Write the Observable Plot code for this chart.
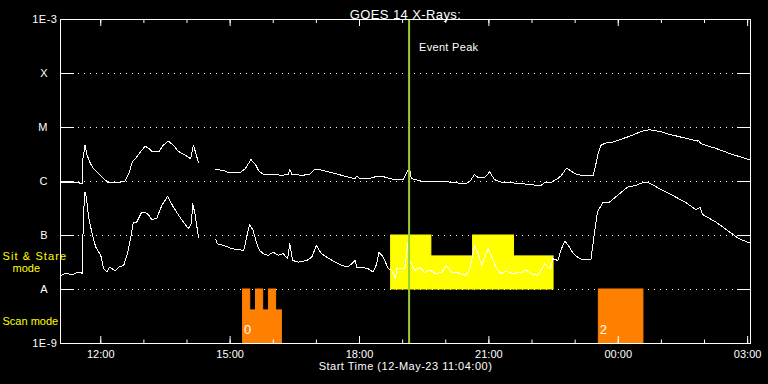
<!DOCTYPE html>
<html><head><meta charset="utf-8">
<script src="https://cdn.jsdelivr.net/npm/d3@7"></script>
<script src="https://cdn.jsdelivr.net/npm/@observablehq/plot@0.6"></script>
<style>html,body{margin:0;padding:0;background:#000;overflow:hidden;}</style>
</head><body><div id="chart"></div><script>
// ---------------- data ----------------
const title = "GOES 14 X-Rays:";
const xLabel = "Start Time (12-May-23 11:04:00)";
const startTime = "11:04", endTime = "03:04";
const hourTicks = ["12:00","13:00","14:00","15:00","16:00","17:00","18:00","19:00","20:00","21:00","22:00","23:00","00:00","01:00","02:00","03:00"];
const majorTicks = ["12:00","15:00","18:00","21:00","00:00","03:00"];
const yTickValues = [1e-9, 1e-8, 1e-7, 1e-6, 1e-5, 1e-4, 1e-3];
const yTickLabels = ["1E-9", "A", "B", "C", "M", "X", "1E-3"];
const peakTime = "19:09";
const peakLabel = "Event Peak";

// GOES long channel (1-8 A), W/m^2 (null = data gap)
const longTimes = ["11:04","11:29","11:34","11:35","11:38","11:41","11:46","11:50","11:57","12:04","12:11","12:23","12:34","12:39","12:44","12:50","12:57","13:02","13:07","13:11","13:21","13:27","13:34","13:41","13:48","13:58","14:05","14:09","14:11","14:16","14:27",
"14:39","14:51","14:55","15:14","15:21","15:29","15:35","15:40","15:46","15:58","16:12","16:21","16:23","16:26","16:40","16:51","16:58","17:05","17:17","17:30","17:44","17:54","17:56","18:01","18:12","18:26","18:35","18:49","19:01","19:07","19:10","19:12","19:22","19:31","19:45","19:59","20:13","20:27","20:33","20:40","20:45","20:54","21:01","21:08","21:20","21:34","21:47","22:06","22:13","22:18","22:25","22:36","22:41","22:48","22:55","23:02","23:09","23:25","23:28","23:32","23:36","23:43","23:53","00:06","00:20","00:32","00:43","00:57","01:11","01:30","01:50","01:52","01:54","01:57","02:16","02:35","02:53","03:04"];
const longFlux = [9.8e-7,9.5e-7,9.1e-7,2.5e-6,4.7e-6,3.05e-6,2.1e-6,1.73e-6,1.4e-6,1.13e-6,9.4e-7,9.4e-7,1.02e-6,1.4e-6,2.3e-6,2.84e-6,3.8e-6,4.5e-6,4.1e-6,3.6e-6,3.6e-6,4.7e-6,5.6e-6,4.7e-6,3.6e-6,3.05e-6,2.65e-6,4.7e-6,3.8e-6,2.23e-6,null,
1.66e-6,1.61e-6,1.5e-6,1.46e-6,1.73e-6,2.54e-6,2.1e-6,1.56e-6,1.36e-6,1.36e-6,1.3e-6,1.36e-6,1.66e-6,1.36e-6,1.3e-6,1.36e-6,1.68e-6,1.66e-6,1.5e-6,1.36e-6,1.21e-6,1.13e-6,1.25e-6,1.13e-6,1.13e-6,1.26e-6,1.21e-6,1.08e-6,1.08e-6,1.61e-6,1.61e-6,1.13e-6,1.05e-6,9.8e-7,9.8e-7,1.0e-6,9.5e-7,9.1e-7,9.8e-7,1.34e-6,1.18e-6,1.18e-6,1.5e-6,1.08e-6,9.5e-7,9.4e-7,9.1e-7,8.5e-7,8.5e-7,9.8e-7,9.4e-7,1.13e-6,1.3e-6,1.77e-6,1.54e-6,1.36e-6,1.3e-6,1.3e-6,1.85e-6,3.3e-6,4.7e-6,5.2e-6,5.4e-6,6.2e-6,7.2e-6,8.5e-6,9.1e-6,8.5e-6,7.5e-6,6.5e-6,5.6e-6,5.8e-6,5.2e-6,4.9e-6,4.1e-6,3.3e-6,2.77e-6,2.5e-6];

// GOES short channel (0.5-4 A), W/m^2 (null = data gap)
const shortTimes = ["11:04","11:12","11:20","11:26","11:32","11:34","11:36","11:38","11:40","11:43","11:48","11:53","12:00","12:04","12:09","12:12","12:16","12:20","12:25","12:32","12:37","12:41","12:45","12:50","12:57","13:02","13:07","13:11","13:18","13:25","13:33","13:41","13:51","14:02","14:06","14:08","14:11","14:16","14:27",
"14:40","14:42","14:55","15:02","15:19","15:23","15:27","15:32","15:37","15:41","15:46","15:53","16:00","16:07","16:14","16:20","16:23","16:27","16:35","16:42","16:49","16:54","17:00","17:07","17:14","17:26","17:35","17:44","17:54","17:56","18:03","18:12","18:19","18:24","18:27","18:33","18:40","18:45","18:50","18:52","18:59","19:03","19:07","19:10","19:17","19:24","19:31","19:38","19:45","19:54","20:01","20:08","20:17","20:27","20:33","20:40","20:45","20:50","20:59","21:04","21:11","21:17","21:24","21:31","21:45","21:52","21:59","22:08","22:18","22:25","22:29","22:36","22:41","22:46","22:52","22:57","23:04","23:10","23:22","23:27","23:31","23:39","23:48","00:02","00:13","00:25","00:36","00:43","00:57","01:16","01:35","01:48","01:54","01:57","02:16","02:35","02:48","03:04"];
const shortFlux = [1.82e-8,2.0e-8,1.85e-8,2.05e-8,2.1e-8,1.96e-8,2.54e-7,6.4e-7,5.15e-7,2.2e-7,1.08e-7,6.1e-8,4.3e-8,2.43e-8,2.1e-8,2.6e-8,2.43e-8,2.2e-8,2.6e-8,2.8e-8,4.6e-8,8.1e-8,1.7e-7,1.77e-7,2.7e-7,2.7e-7,2.36e-7,1.96e-7,2.1e-7,3.6e-7,5.3e-7,3.36e-7,2.1e-7,1.34e-7,1.66e-7,3.9e-7,2.54e-7,9.3e-8,null,
8.4e-8,7.05e-8,6.3e-8,5.7e-8,5.3e-8,9.3e-8,1.6e-7,1.24e-7,7.05e-8,5.3e-8,4.6e-8,4.3e-8,4.9e-8,4.3e-8,4.6e-8,3.7e-8,7.05e-8,3.45e-8,3.2e-8,3.35e-8,3.56e-8,4.1e-8,6.55e-8,4.6e-8,4.0e-8,3.2e-8,2.8e-8,2.6e-8,3.45e-8,2.6e-8,2.6e-8,2.43e-8,2.1e-8,3.0e-8,4.9e-8,4.0e-8,2.43e-8,2.25e-8,1.6e-8,2.43e-8,2.43e-8,2.43e-8,7.2e-8,3.45e-8,2.25e-8,2.6e-8,2.04e-8,2.3e-8,2.0e-8,2.04e-8,2.8e-8,2.1e-8,2.04e-8,1.82e-8,2.25e-8,6.55e-8,4.6e-8,2.8e-8,5.7e-8,4.0e-8,2.43e-8,1.96e-8,2.2e-8,2.0e-8,2.04e-8,2.3e-8,1.96e-8,1.82e-8,3.0e-8,2.43e-8,3.7e-8,3.45e-8,5.7e-8,7.9e-8,6.1e-8,4.7e-8,3.9e-8,3.6e-8,3.6e-8,1.16e-7,2.7e-7,4.16e-7,4.16e-7,5.95e-7,7.9e-7,8.5e-7,9.8e-7,9.4e-7,7.4e-7,5.5e-7,4.0e-7,3.0e-7,3.36e-7,2.46e-7,1.77e-7,1.16e-7,8.7e-8,7.2e-8];

// Sit & Stare mode blocks
const ssStart = ["18:44","19:40","20:38","21:35"];
const ssEnd   = ["19:40","20:38","21:35","22:30"];
const ssTop   = [1e-7, 4.1e-8, 1e-7, 4.1e-8];
const ssBase  = 1e-8;
// Scan mode blocks
const scanStart = ["15:18","15:28","15:36","15:46","15:54","16:04","23:33"];
const scanEnd   = ["15:28","15:36","15:46","15:54","16:04","16:12","00:35"];
const scanTop   = [1e-8, 4.1e-9, 1e-8, 4.1e-9, 1e-8, 4.1e-9, 1e-8];
const scanBase  = 1e-9;
const scanLabelTimes = ["15:18","23:33"];
const scanLabels = ["0","2"];

// ---------------- helpers ----------------
function t(s) {
  const [h, m] = s.split(":").map(Number);
  const day = h < 11 ? 13 : 12;
  return new Date(Date.UTC(2023, 4, day, h, m));
}
const longData = longTimes.map((s, i) => ({time: t(s), flux: longFlux[i] == null ? NaN : longFlux[i]}));
const shortData = shortTimes.map((s, i) => ({time: t(s), flux: shortFlux[i] == null ? NaN : shortFlux[i]}));
const ssData = ssStart.map((s, i) => ({x1: t(s), x2: t(ssEnd[i]), y1: ssBase, y2: ssTop[i]}));
const scanData = scanStart.map((s, i) => ({x1: t(s), x2: t(scanEnd[i]), y1: scanBase, y2: scanTop[i]}));
const scanLabelData = scanLabelTimes.map((s, i) => ({time: t(s), label: scanLabels[i]}));
const hourDates = hourTicks.map(t);
const majorDates = majorTicks.map(t);
const yLab = new Map(yTickValues.map((v, i) => [v, yTickLabels[i]]));
const yEnds = [yTickValues[0], yTickValues[yTickValues.length - 1]];
const yLetters = yTickValues.slice(1, -1);
const fmt = d3.utcFormat("%H:%M");
const blank = () => "";

const chart = Plot.plot({
  width: 768, height: 384,
  marginLeft: 60, marginRight: 18, marginTop: 19, marginBottom: 41,
  style: {background: "#000", color: "#fff", fontFamily: "'Liberation Sans', Arial, sans-serif", fontSize: "11px", overflow: "visible"},
  x: {type: "utc", domain: [t(startTime), t(endTime)], axis: null},
  y: {type: "log", domain: [1e-9, 1e-3], axis: null},
  marks: [
    Plot.gridY(yLetters, {stroke: "#fff", strokeOpacity: 1, strokeDasharray: "1,5"}),
    Plot.rect(ssData, {x1: "x1", x2: "x2", y1: "y1", y2: "y2", fill: "#ffff00", stroke: "#ffff00", strokeWidth: 1, inset: 0}),
    Plot.rect(scanData, {x1: "x1", x2: "x2", y1: "y1", y2: "y2", fill: "#ff8000", stroke: "#ff8000", strokeWidth: 1, inset: 0}),
    Plot.text(scanLabelData, {x: "time", text: "label", frameAnchor: "bottom", dy: -10, dx: 1, textAnchor: "start", fill: "#fff", fontSize: 13}),
    Plot.line(longData, {x: "time", y: "flux", stroke: "#fff", strokeWidth: 1, shapeRendering: "crispEdges"}),
    Plot.line(shortData, {x: "time", y: "flux", stroke: "#fff", strokeWidth: 1, shapeRendering: "crispEdges"}),
    Plot.ruleX([peakTime], {x: d => t(d), stroke: "#9acd32", strokeWidth: 2}),
    Plot.text([peakLabel], {x: () => t(peakTime), text: d => d, frameAnchor: "top", dy: 23.5, dx: 10, textAnchor: "start", fill: "#fff"}),
    // labels outside
    Plot.text([title], {text: d => d, frameAnchor: "top", dy: -9.5, fill: "#fff", fontSize: 13}),
    Plot.text([xLabel], {text: d => d, frameAnchor: "bottom", dy: 26, fill: "#fff"}),
    Plot.text(["Sit & Stare"], {text: d => d, frameAnchor: "bottom-left", dx: -58, dy: -84, textAnchor: "start", fill: "#ffff00"}),
    Plot.text(["mode"], {text: d => d, frameAnchor: "bottom-left", dx: -48, dy: -72, textAnchor: "start", fill: "#ffff00"}),
    Plot.text(["Scan mode"], {text: d => d, frameAnchor: "bottom-left", dx: -58, dy: -19, textAnchor: "start", fill: "#ffff00"}),
    // axes
    Plot.axisY(yTickValues, {anchor: "left", tickSize: -14, tickFormat: blank, label: null}),
    Plot.axisY(yTickValues, {anchor: "right", tickSize: -14, tickFormat: blank, label: null}),
    Plot.axisY(yEnds, {anchor: "left", tickSize: 0, tickPadding: 3, tickFormat: d => yLab.get(d), label: null}),
    Plot.axisY(yLetters, {anchor: "left", tickSize: 0, tickPadding: 13, tickFormat: d => yLab.get(d), label: null}),
    Plot.axisX(hourDates, {anchor: "bottom", tickSize: -3.5, tickFormat: blank, label: null}),
    Plot.axisX(majorDates, {anchor: "bottom", tickSize: -7, tickFormat: blank, label: null}),
    Plot.axisX(majorDates, {anchor: "bottom", tickSize: 0, tickPadding: 7, tickFormat: fmt, label: null}),
    Plot.axisX(hourDates, {anchor: "top", tickSize: -3, tickFormat: blank, label: null}),
    Plot.axisX(majorDates, {anchor: "top", tickSize: -6, tickFormat: blank, label: null}),
    Plot.frame({stroke: "#fff"})
  ]
});
document.getElementById("chart").appendChild(chart);
const spacing = new Map([[title, 0.4], [xLabel, 0.5], ["Sit & Stare", 1.1], ["1E-3", 0.5], ["1E-9", 0.5], [peakLabel, 0.3]]);
d3.select(chart).selectAll("text").each(function() {
  const s = spacing.get(this.textContent);
  if (s) this.setAttribute("letter-spacing", s);
});
</script></body></html>
